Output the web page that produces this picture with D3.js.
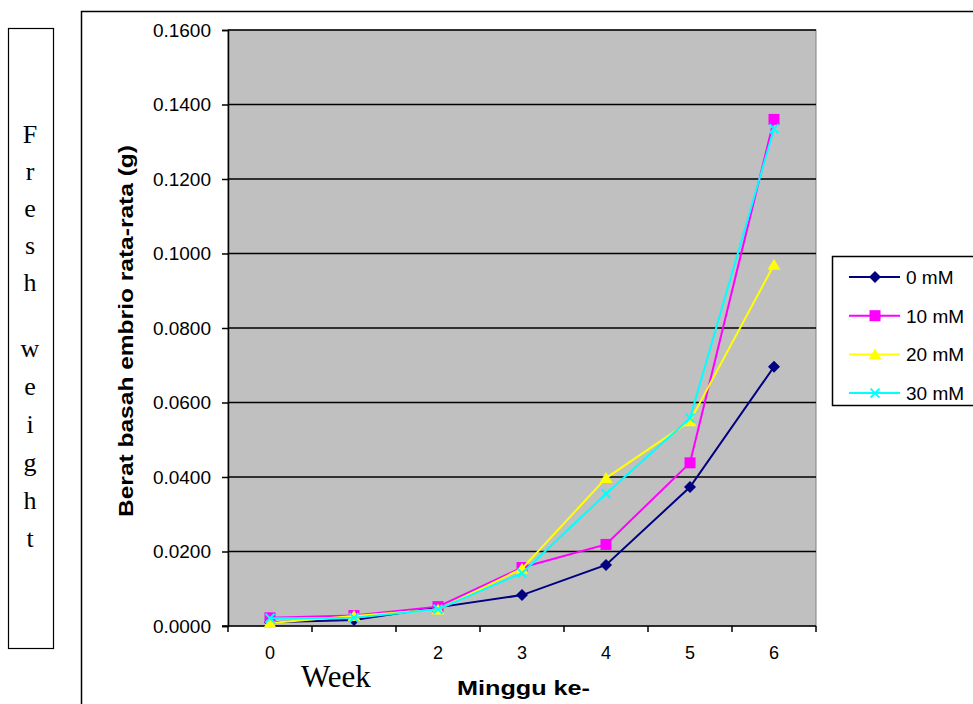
<!DOCTYPE html>
<html>
<head>
<meta charset="utf-8">
<script src="https://cdn.jsdelivr.net/npm/d3@7"></script>
<style>
  body { margin: 0; background: #fff; }
  svg { display: block; }
  .tick text { font-family: Arial, "Liberation Sans", sans-serif; font-size: 19px; fill: #000; }
</style>
</head>
<body>
<svg id="chart" width="973" height="704"></svg>
<script>
// data
var weeks = ["0", "1", "2", "3", "4", "5", "6"];
var weekLabels = ["0", "", "2", "3", "4", "5", "6"]; // "1" is covered by the Week note
var series = ["0 mM", "10 mM", "20 mM", "30 mM"];
var mM0  = [0.0010, 0.0016, 0.0050, 0.0083, 0.0164, 0.0373, 0.0696];
var mM10 = [0.0022, 0.0028, 0.0052, 0.0157, 0.0219, 0.0438, 0.1360];
var mM20 = [0.0008, 0.0027, 0.0044, 0.0154, 0.0397, 0.0550, 0.0970];
var mM30 = [0.0021, 0.0022, 0.0045, 0.0142, 0.0355, 0.0558, 0.1335];
var yTicks = [0, 0.02, 0.04, 0.06, 0.08, 0.10, 0.12, 0.14, 0.16];
var freshWord = ["F", "r", "e", "s", "h"];
var weightWord = ["w", "e", "i", "g", "h", "t"];

var allSeries = [mM0, mM10, mM20, mM30];
var colors = ["#000080", "#FF00FF", "#FFFF00", "#00FFFF"];
var markers = ["diamond", "square", "triangle", "cross"];

var svg = d3.select("#chart");

// outer chart border (runs off the page right and bottom)
svg.append("rect")
  .attr("x", 81.5).attr("y", 11.5)
  .attr("width", 1000).attr("height", 800)
  .attr("fill", "#fff").attr("stroke", "#000").attr("stroke-width", 1.5);

var pL = 228, pR = 816, pT = 30, pB = 626;

var x = d3.scaleBand().domain(weeks).range([pL, pR]).paddingInner(0).paddingOuter(0);
var y = d3.scaleLinear().domain([0, 0.16]).range([pB, pT]);

// plot area
svg.append("rect")
  .attr("x", pL).attr("y", pT)
  .attr("width", pR - pL).attr("height", pB - pT)
  .attr("fill", "#C0C0C0").attr("stroke", "#808080").attr("stroke-width", 1);

// gridlines
svg.append("g").selectAll("line")
  .data(yTicks.filter(function(d) { return d > 0; }))
  .enter().append("line")
  .attr("x1", pL).attr("x2", pR)
  .attr("y1", function(d) { return y(d); })
  .attr("y2", function(d) { return y(d); })
  .attr("stroke", "#000").attr("stroke-width", 1.5);

// y axis
var yAxis = svg.append("g")
  .attr("transform", "translate(" + pL + ",0)")
  .call(d3.axisLeft(y).tickValues(yTicks).tickFormat(d3.format(".4f")).tickSize(6).tickPadding(11));
yAxis.select(".domain").attr("stroke", "#000").attr("stroke-width", 1.5);
yAxis.selectAll(".tick line").attr("stroke", "#000").attr("stroke-width", 1.5);

// x axis: labels centred in the categories, ticks on the boundaries
var xAxis = svg.append("g")
  .attr("transform", "translate(0," + pB + ")")
  .call(d3.axisBottom(x).tickSize(0).tickPadding(20)
    .tickFormat(function(d, i) { return weekLabels[i]; }));
xAxis.select(".domain").remove();
xAxis.selectAll(".tick text").style("font-size", "18px");
svg.append("line")
  .attr("x1", pL - 6).attr("x2", pR)
  .attr("y1", pB).attr("y2", pB)
  .attr("stroke", "#000").attr("stroke-width", 1.5);
var edges = weeks.map(function(d) { return x(d); }).concat([x(weeks[weeks.length - 1]) + x.bandwidth()]);
svg.append("g").selectAll("line")
  .data(edges)
  .enter().append("line")
  .attr("x1", function(d) { return d; }).attr("x2", function(d) { return d; })
  .attr("y1", pB).attr("y2", pB + 6)
  .attr("stroke", "#000").attr("stroke-width", 1.5);

// axis titles
svg.append("text")
  .attr("x", 457).attr("y", 695)
  .attr("textLength", 133).attr("lengthAdjust", "spacingAndGlyphs")
  .style("font-family", "Arial, 'Liberation Sans', sans-serif")
  .style("font-size", "21px").style("font-weight", "bold")
  .text("Minggu ke-");

svg.append("text")
  .attr("transform", "translate(133,331) rotate(-90)")
  .attr("text-anchor", "middle")
  .attr("textLength", 372).attr("lengthAdjust", "spacingAndGlyphs")
  .style("font-family", "Arial, 'Liberation Sans', sans-serif")
  .style("font-size", "21px").style("font-weight", "bold")
  .text("Berat basah embrio rata-rata (g)");

// lines and markers
var cx = function(d, i) { return x(weeks[i]) + x.bandwidth() / 2; };
var line = d3.line().x(cx).y(function(d) { return y(d); });

function drawMarker(g, type, color, px, py) {
  if (type === "diamond") {
    g.append("path").attr("d", "M0,-6L6,0L0,6L-6,0Z")
      .attr("transform", "translate(" + px + "," + py + ")")
      .attr("fill", color);
  } else if (type === "square") {
    g.append("rect").attr("x", px - 5.5).attr("y", py - 5.5).attr("width", 11).attr("height", 11)
      .attr("fill", color);
  } else if (type === "triangle") {
    g.append("path").attr("d", "M0,-6L6.5,5L-6.5,5Z")
      .attr("transform", "translate(" + px + "," + py + ")")
      .attr("fill", color);
  } else {
    g.append("path").attr("d", "M-4.5,-4.5L4.5,4.5M-4.5,4.5L4.5,-4.5")
      .attr("transform", "translate(" + px + "," + py + ")")
      .attr("stroke", color).attr("stroke-width", 2).attr("fill", "none");
  }
}

allSeries.forEach(function(vals, s) {
  var g = svg.append("g");
  g.append("path").datum(vals)
    .attr("d", line)
    .attr("fill", "none").attr("stroke", colors[s]).attr("stroke-width", 2);
  vals.forEach(function(v, i) {
    drawMarker(g, markers[s], colors[s], cx(v, i), y(v));
  });
});

// legend
var leg = svg.append("g");
leg.append("rect")
  .attr("x", 832.5).attr("y", 256.5).attr("width", 160).attr("height", 149)
  .attr("fill", "#fff").attr("stroke", "#000").attr("stroke-width", 1.5);
series.forEach(function(name, s) {
  var ly = 277 + s * 38.7;
  leg.append("line").attr("x1", 849).attr("x2", 900).attr("y1", ly).attr("y2", ly)
    .attr("stroke", colors[s]).attr("stroke-width", 2);
  drawMarker(leg, markers[s], colors[s], 875, ly);
  leg.append("text").attr("x", 906).attr("y", ly + 7)
    .style("font-family", "Arial, 'Liberation Sans', sans-serif")
    .style("font-size", "19px")
    .text(name);
});

// "Fresh weight" side note
svg.append("rect")
  .attr("x", 8.5).attr("y", 28.5).attr("width", 45).attr("height", 620)
  .attr("fill", "#fff").attr("stroke", "#000").attr("stroke-width", 1.2);
var noteFont = "'Liberation Serif', 'DejaVu Serif', serif";
svg.append("g").selectAll("text")
  .data(freshWord)
  .enter().append("text")
  .attr("x", 30).attr("y", function(d, i) { return 143 + i * 37; })
  .attr("text-anchor", "middle")
  .style("font-family", noteFont).style("font-size", "26px")
  .text(function(d) { return d; });
svg.append("g").selectAll("text")
  .data(weightWord)
  .enter().append("text")
  .attr("x", 30).attr("y", function(d, i) { return 357 + i * 38; })
  .attr("text-anchor", "middle")
  .style("font-family", noteFont).style("font-size", "26px")
  .text(function(d) { return d; });

// "Week" note
svg.append("text")
  .attr("x", 301).attr("y", 687)
  .style("font-family", noteFont)
  .style("font-size", "31px")
  .text("Week");
</script>
</body>
</html>
